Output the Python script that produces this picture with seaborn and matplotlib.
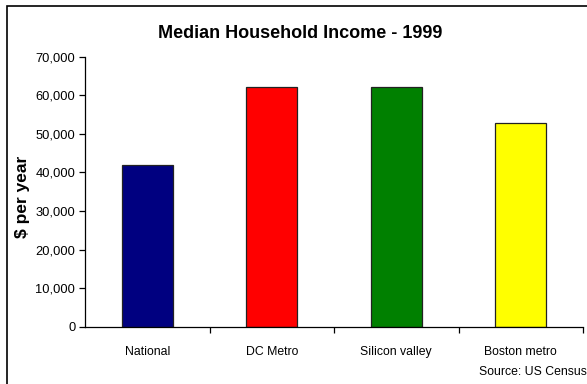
import matplotlib
matplotlib.use("Agg")
import matplotlib.pyplot as plt
from matplotlib.patches import Rectangle
from matplotlib.ticker import FuncFormatter, FixedLocator
import seaborn as sns
import pandas as pd

# Median household income, 1999 (US dollars per year)
regions = ["National", "DC Metro", "Silicon valley", "Boston metro"]
incomes = [41994, 62200, 62100, 52700]
bar_colors = ["#000080", "#FF0000", "#008000", "#FFFF00"]
y_ticks = [0, 10000, 20000, 30000, 40000, 50000, 60000, 70000]

sns.set_theme(style="white")
plt.rcParams["font.family"] = ["Liberation Sans", "DejaVu Sans"]

W, H = 587, 384
fig = plt.figure(figsize=(W / 100, H / 100), dpi=100)
fig.patch.set_facecolor("white")

ax = fig.add_axes([85 / W, 1 - 326.7 / H, (583 - 85) / W, (326.7 - 56.7) / H])

df = pd.DataFrame({"region": regions, "income": incomes})
sns.barplot(data=df, x="region", y="income", hue="region",
            palette=bar_colors, legend=False, width=0.41,
            edgecolor="#222222", linewidth=0.9, saturation=1, ax=ax)

ax.set_xlim(-0.5, len(regions) - 0.5)
ax.set_ylim(0, 70000)
ax.yaxis.set_major_locator(FixedLocator(y_ticks))
ax.yaxis.set_major_formatter(FuncFormatter(lambda v, p: f"{int(v):,}"))

# category separators as tick marks between bars
ax.xaxis.set_minor_locator(FixedLocator([i + 0.5 for i in range(len(regions))]))
ax.tick_params(axis="x", which="major", length=0, pad=14, labelsize=8.8, colors="black")
ax.tick_params(axis="x", which="minor", length=4, width=0.9, color="black", direction="out", bottom=True)
ax.tick_params(axis="y", which="major", length=4, width=0.9, color="black", direction="out",
               left=True, labelsize=9.3, pad=3, labelcolor="black")

for side in ["top", "right"]:
    ax.spines[side].set_visible(False)
for side in ["left", "bottom"]:
    ax.spines[side].set_color("black")
    ax.spines[side].set_linewidth(0.9)

ax.set_xlabel("")
ax.set_ylabel("$ per year", fontsize=12.5, fontweight="bold", color="black")
ax.yaxis.set_label_coords(-0.11, 0.48)

fig.text(300 / W, 1 - 33 / H, "Median Household Income - 1999", ha="center", va="center",
         fontsize=13, fontweight="bold", color="black")
fig.text(479 / W, 1 - 372 / H, "Source: US Census", ha="left", va="center",
         fontsize=8.8, color="black")

# chart area frame
fig.patches.append(Rectangle((7 / W, -0.1), 1.2, 1 - 6 / H + 0.1, transform=fig.transFigure,
                             fill=False, edgecolor="black", linewidth=1.2))

fig.savefig("out.png", dpi=100)
